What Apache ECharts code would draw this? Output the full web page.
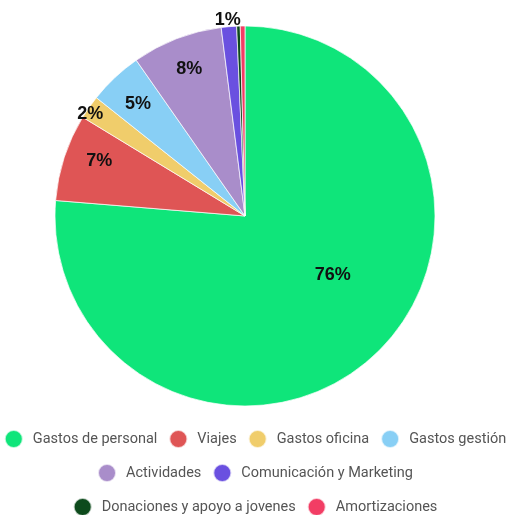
<!DOCTYPE html>
<html>
<head>
<meta charset="utf-8">
<script src="https://cdn.jsdelivr.net/npm/echarts@6/dist/echarts.min.js"></script>
<style>
    html, body { margin: 0; padding: 0; background: #fff; }
    #main { width: 510px; height: 515px; }
</style>
</head>
<body>
<div id="main"></div>
<script>
    // data
    let categories = ['Gastos de personal', 'Viajes', 'Gastos oficina', 'Gastos gestión',
        'Actividades', 'Comunicación y Marketing', 'Donaciones y apoyo a jovenes', 'Amortizaciones'];
    let values = [76.3, 7.4, 2.0, 4.6, 7.7, 1.3, 0.3, 0.4];

    // style
    let colors = ['#0fe57a', '#df5555', '#f0cd6b', '#88cff5', '#a98dca', '#6a50e0', '#0d4a1c', '#f23d64'];
    // where each label sits, as a share of the radius (0 = no label), plus a small nudge
    let labelRing = [0.55, 0.83, 0.99, 0.83, 0.83, 1.055, 0, 0];
    let labelOffset = [[15, -20], [7, -5], [2, 7], [3, 5], [2, 3], [0, 7], [0, 0], [0, 0]];
    // legend rows, each centred on its own
    let legendRows = [[0, 1, 2, 3], [4, 5], [6, 7]];
    let legendTops = [429, 463, 497];

    let R = 190;
    let center = [245, 216];

    let chart = echarts.init(document.getElementById('main'));

    let series = [{
        name: 'gastos',
        type: 'pie',
        center: center,
        radius: [0, R],
        startAngle: 90,
        clockwise: true,
        avoidLabelOverlap: false,
        label: { show: false },
        labelLine: { show: false },
        itemStyle: { borderColor: 'rgba(255,255,255,0.7)', borderWidth: 1 },
        data: categories.map(function (c, i) {
            return { name: c, value: values[i], itemStyle: { color: colors[i] } };
        })
    }];

    // transparent rings only used to place the percentage labels
    let rings = labelRing.filter(function (r, i) { return r > 0 && labelRing.indexOf(r) === i; });
    rings.forEach(function (ring) {
        series.push({
            type: 'pie',
            center: center,
            radius: [ring * R - 2, ring * R + 2],
            startAngle: 90,
            clockwise: true,
            silent: true,
            avoidLabelOverlap: false,
            labelLine: { show: false },
            itemStyle: { color: 'rgba(0,0,0,0)' },
            emphasis: { disabled: true },
            data: categories.map(function (c, i) {
                return {
                    name: c,
                    value: values[i],
                    label: {
                        show: labelRing[i] === ring,
                        position: 'inside',
                        offset: labelOffset[i],
                        formatter: function (p) { return Math.round(p.percent) + '%'; },
                        fontFamily: '"Liberation Sans", Arial, sans-serif',
                        fontSize: 18,
                        fontWeight: 'bold',
                        color: '#111'
                    }
                };
            })
        });
    });

    let legends = legendRows.map(function (row, k) {
        return {
            data: row.map(function (i) { return categories[i]; }),
            left: 'center',
            top: legendTops[k],
            padding: 0,
            icon: 'circle',
            itemWidth: 28,
            itemHeight: 18,
            itemGap: 11,
            textStyle: {
                fontFamily: 'Roboto, Arial, sans-serif',
                fontSize: 14.5,
                color: '#555'
            }
        };
    });

    let option = {
        animation: false,
        tooltip: { show: false },
        legend: legends,
        series: series
    };
    chart.setOption(option);
</script>
</body>
</html>
